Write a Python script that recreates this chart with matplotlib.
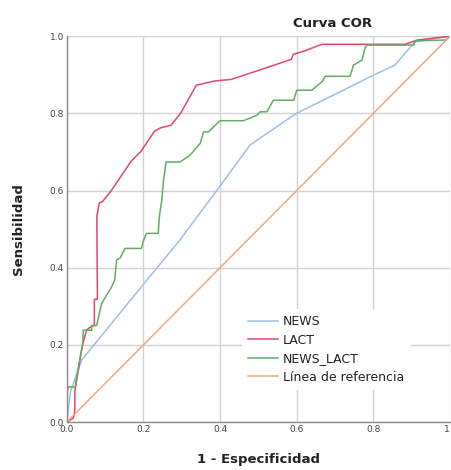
import matplotlib
matplotlib.use("Agg")
import matplotlib.pyplot as plt

# ROC curves
news_x = [0.0, 0.01, 0.039, 0.10, 0.20, 0.296, 0.395, 0.478, 0.599, 0.695, 0.80, 0.856, 0.908, 1.0]
news_y = [0.0, 0.08, 0.161, 0.235, 0.357, 0.473, 0.605, 0.718, 0.80, 0.847, 0.899, 0.925, 0.985, 1.0]

lact_x = [0.0, 0.017, 0.021, 0.021, 0.041, 0.052, 0.067, 0.072, 0.072, 0.080, 0.0785, 0.085, 0.093,
          0.115, 0.168, 0.194, 0.229, 0.246, 0.272, 0.298, 0.338, 0.386, 0.429, 0.508, 0.586,
          0.591, 0.621, 0.665, 0.883, 0.914, 1.0]
lact_y = [0.0, 0.01, 0.03, 0.079, 0.2, 0.239, 0.25, 0.25, 0.318, 0.318, 0.533, 0.568, 0.571,
          0.598, 0.676, 0.702, 0.754, 0.763, 0.769, 0.802, 0.873, 0.884, 0.888, 0.914, 0.940,
          0.953, 0.962, 0.979, 0.979, 0.990, 1.0]

nl_x = [0.0, 0.0, 0.004, 0.022, 0.026, 0.035, 0.042, 0.043, 0.065, 0.065, 0.078, 0.084, 0.091,
        0.104, 0.117, 0.125, 0.13, 0.139, 0.152, 0.195, 0.2, 0.208, 0.239, 0.239, 0.242, 0.248,
        0.252, 0.259, 0.296, 0.322, 0.348, 0.357, 0.37, 0.383, 0.4, 0.461, 0.496, 0.504, 0.522,
        0.539, 0.592, 0.6, 0.639, 0.666, 0.674, 0.739, 0.748, 0.77, 0.779, 0.783, 0.905, 0.909,
        0.99, 1.0]
nl_y = [0.0, 0.074, 0.091, 0.091, 0.117, 0.169, 0.204, 0.238, 0.238, 0.25, 0.25, 0.277, 0.307,
        0.329, 0.35, 0.368, 0.42, 0.425, 0.45, 0.45, 0.47, 0.489, 0.489, 0.497, 0.536, 0.575,
        0.622, 0.674, 0.674, 0.692, 0.722, 0.752, 0.752, 0.765, 0.781, 0.781, 0.795, 0.804, 0.804,
        0.834, 0.834, 0.86, 0.86, 0.882, 0.896, 0.896, 0.925, 0.938, 0.972, 0.977, 0.977, 0.988,
        0.99, 1.0]

ref = [0.0, 1.0]
ticks = [0.0, 0.2, 0.4, 0.6, 0.8, 1.0]
xtick_labels = ["0.0", "0.2", "0.4", "0.6", "0.8", "1"]
ytick_labels = ["0.0", "0.2", "0.4", "0.6", "0.8", "1.0"]

fig = plt.figure(figsize=(4.51, 4.70), dpi=100)
ax = fig.add_axes([0.148, 0.102, 0.85, 0.821])

ax.plot(news_x, news_y, color="#9fbfe8", lw=1.1, label="NEWS")
ax.plot(lact_x, lact_y, color="#e2466d", lw=1.1, label="LACT")
ax.plot(nl_x, nl_y, color="#62ad5f", lw=1.1, label="NEWS_LACT")
ax.plot(ref, ref, color="#f3a67c", lw=1.1, label="Línea de referencia")

ax.set_xlim(0, 1)
ax.set_ylim(0, 1)
ax.set_xticks(ticks)
ax.set_xticklabels(xtick_labels)
ax.set_yticks(ticks)
ax.set_yticklabels(ytick_labels)
ax.tick_params(length=0, labelsize=6.5, colors="#444444", pad=2)
# last label sits at the right edge, keep it inside the picture
ax.get_xticklabels()[-1].set_horizontalalignment("right")
ax.grid(True, color="#d2d2d2", lw=1.0)
ax.set_axisbelow(True)
for s in ["top", "right"]:
    ax.spines[s].set_visible(False)
for s in ["left", "bottom"]:
    ax.spines[s].set_color("#8a8a8a")
    ax.spines[s].set_linewidth(1.0)

ax.set_xlabel("1 - Especificidad", fontsize=9.5, fontweight="bold", color="#222222", labelpad=14)
ax.set_ylabel("Sensibilidad", fontsize=9.5, fontweight="bold", color="#222222", labelpad=18)
fig.text(0.737, 0.949, "Curva COR", fontsize=9.5, fontweight="bold", color="#222222",
         ha="center", va="center")

leg = ax.legend(loc="lower left", bbox_to_anchor=(0.457, 0.083), fontsize=9,
                frameon=True, fancybox=False, framealpha=1, handlelength=2.4,
                handletextpad=0.4, labelspacing=0.44, borderpad=0.5, borderaxespad=0)
leg.get_frame().set_edgecolor("none")
leg.get_frame().set_facecolor("white")
for t in leg.get_texts():
    t.set_color("#222222")

fig.savefig("out.png", dpi=100)
